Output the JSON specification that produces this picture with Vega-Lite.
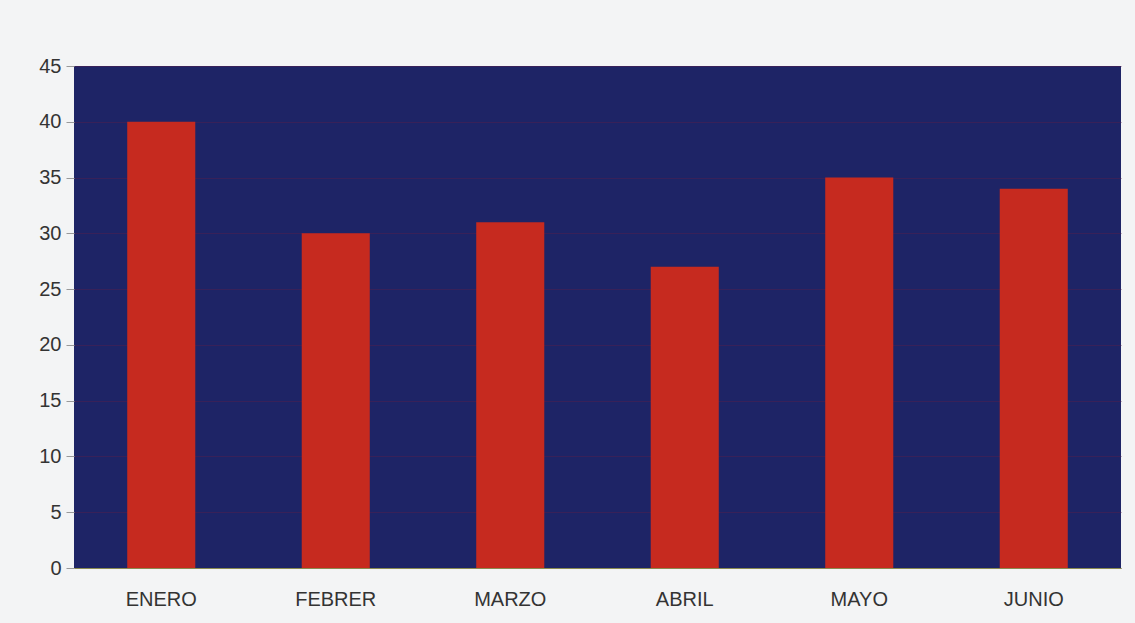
{
  "$schema": "https://vega.github.io/schema/vega-lite/v6.json",
  "autosize": {"type": "none"},
  "width": 1047,
  "height": 502,
  "padding": {"left": 74, "top": 66, "right": 14, "bottom": 55},
  "background": "#f3f4f5",
  "config": {
    "view": {"fill": "#1e2466", "stroke": null},
    "font": "Liberation Sans"
  },
  "data": {
    "values": [
      {"mes": "ENERO", "valor": 40},
      {"mes": "FEBRER", "valor": 30},
      {"mes": "MARZO", "valor": 31},
      {"mes": "ABRIL", "valor": 27},
      {"mes": "MAYO", "valor": 35},
      {"mes": "JUNIO", "valor": 34}
    ]
  },
  "mark": {"type": "bar", "color": "#c62a1f"},
  "encoding": {
    "x": {
      "field": "mes",
      "type": "nominal",
      "sort": null,
      "scale": {"paddingInner": 0.61, "paddingOuter": 0.305},
      "axis": {
        "title": null,
        "labelAngle": 0,
        "labelFontSize": 20,
        "labelColor": "#333333",
        "labelPadding": 21,
        "ticks": false,
        "domainColor": "#8a8a50",
        "domainWidth": 1
      }
    },
    "y": {
      "field": "valor",
      "type": "quantitative",
      "scale": {"domain": [0, 45]},
      "axis": {
        "title": null,
        "values": [0, 5, 10, 15, 20, 25, 30, 35, 40, 45],
        "labelFontSize": 20,
        "labelColor": "#333333",
        "labelPadding": 5,
        "tickSize": 8,
        "tickColor": "#999999",
        "domain": false,
        "grid": true,
        "gridColor": "#4a2050",
        "gridOpacity": 0.6
      }
    }
  }
}
